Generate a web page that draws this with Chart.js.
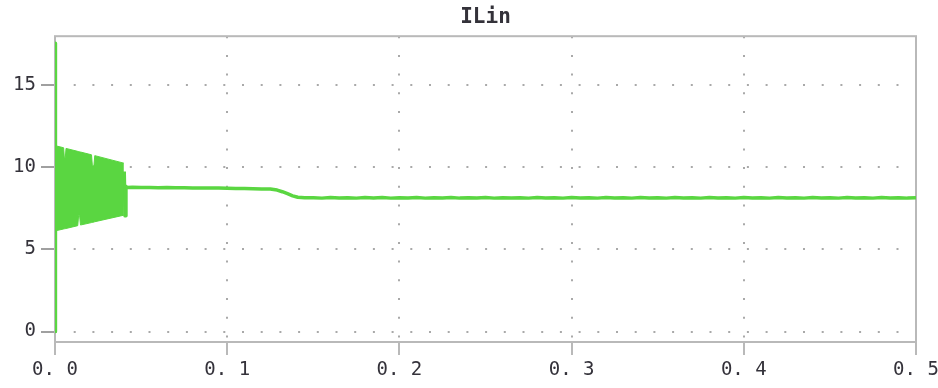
<!DOCTYPE html>
<html>
<head>
<meta charset="utf-8">
<script src="https://cdn.jsdelivr.net/npm/chart.js@4"></script>
<style>
  html, body { margin: 0; padding: 0; background: #ffffff; }
  #wrap { width: 938px; height: 388px; position: relative; }
</style>
</head>
<body>
<div id="wrap"><canvas id="c"></canvas></div>
<script>
// ---- chart text and ticks ----
const chartTitle = 'ILin';
const xTicks = [0, 0.1, 0.2, 0.3, 0.4, 0.5];
const xTickLabels = ['0. 0', '0. 1', '0. 2', '0. 3', '0. 4', '0. 5'];
const yTicks = [0, 5, 10, 15];
const yTickLabels = ['0', '5', '10', '15'];

// ---- start-up spike at t = 0 (s, A) ----
const spikeT = [0, 0.0001, 0.0004];
const spikeI = [0, 17.57, 6.14];

// ---- switching band during start-up: upper / lower envelope (s, A) ----
const bandT    = [0.0004, 0.0050, 0.0054, 0.0060, 0.0064, 0.0132, 0.0137, 0.0143, 0.0148, 0.0212, 0.0217, 0.0226, 0.0231, 0.0400];
const bandHigh = [11.32, 11.20, 10.62, 10.62, 11.16, 10.98, 10.97, 10.95, 10.94, 10.77, 10.10, 10.10, 10.72, 10.26];
const bandLow  = [6.14, 6.25, 6.26, 6.27, 6.28, 6.45, 7.05, 7.05, 6.49, 6.64, 6.65, 6.67, 6.69, 7.09];

// ---- settled input current (s, A) ----
const traceT = [
  0.0402, 0.0407, 0.0412, 0.0418, 0.045, 0.050, 0.055, 0.060, 0.065, 0.070,
  0.075, 0.080, 0.085, 0.090, 0.095, 0.100, 0.105, 0.110, 0.115, 0.120,
  0.125, 0.129, 0.132, 0.135, 0.138, 0.141, 0.145,
  0.150, 0.155, 0.160, 0.165, 0.170, 0.175, 0.180, 0.185, 0.190, 0.195,
  0.200, 0.205, 0.210, 0.215, 0.220, 0.225, 0.230, 0.235, 0.240, 0.245,
  0.250, 0.255, 0.260, 0.265, 0.270, 0.275, 0.280, 0.285, 0.290, 0.295,
  0.300, 0.305, 0.310, 0.315, 0.320, 0.325, 0.330, 0.335, 0.340, 0.345,
  0.350, 0.355, 0.360, 0.365, 0.370, 0.375, 0.380, 0.385, 0.390, 0.395,
  0.400, 0.405, 0.410, 0.415, 0.420, 0.425, 0.430, 0.435, 0.440, 0.445,
  0.450, 0.455, 0.460, 0.465, 0.470, 0.475, 0.480, 0.485, 0.490, 0.495,
  0.500
];
const traceI = [
  9.75, 7.05, 8.85, 8.78, 8.79, 8.77, 8.78, 8.76, 8.77, 8.76,
  8.76, 8.75, 8.75, 8.74, 8.74, 8.73, 8.72, 8.71, 8.70, 8.69,
  8.68, 8.62, 8.52, 8.40, 8.27, 8.18, 8.15,
  8.16, 8.13, 8.17, 8.14, 8.16, 8.13, 8.17, 8.14, 8.17, 8.13,
  8.16, 8.14, 8.17, 8.13, 8.16, 8.14, 8.17, 8.13, 8.15, 8.14,
  8.17, 8.13, 8.16, 8.14, 8.16, 8.13, 8.17, 8.14, 8.16, 8.13,
  8.17, 8.14, 8.16, 8.13, 8.17, 8.14, 8.16, 8.13, 8.17, 8.14,
  8.16, 8.13, 8.17, 8.14, 8.16, 8.13, 8.17, 8.14, 8.16, 8.13,
  8.17, 8.14, 8.16, 8.13, 8.17, 8.14, 8.16, 8.13, 8.17, 8.14,
  8.16, 8.13, 8.17, 8.14, 8.16, 8.13, 8.17, 8.14, 8.16, 8.13,
  8.15
];

// ---- styling ----
const traceColor = '#5ad641';
const frameColor = '#b9b9b9';
const gridColor = '#a9a9a9';
const textColor = '#34323a';
const monoFont = "'DejaVu Sans Mono', 'Liberation Mono', monospace";

const toPoints = (ts, vs) => ts.map((t, i) => ({ x: t, y: vs[i] }));

// spike, a break while the band is drawn, then the settled trace
const mainPoints = toPoints(spikeT, spikeI)
  .concat([{ x: 0.0010, y: null }])
  .concat(toPoints(traceT, traceI));

// plot frame around the chart area
const framePlugin = {
  id: 'plotFrame',
  beforeDatasetsDraw(chart) {
    const { ctx, chartArea: a } = chart;
    ctx.save();
    ctx.strokeStyle = frameColor;
    ctx.lineWidth = 2;
    ctx.strokeRect(a.left, a.top, a.right - a.left, a.bottom - a.top);
    ctx.restore();
  }
};

new Chart(document.getElementById('c'), {
  type: 'line',
  data: {
    datasets: [
      {
        label: 'band high',
        data: toPoints(bandT, bandHigh),
        borderColor: traceColor,
        borderWidth: 1,
        pointRadius: 0,
        fill: false,
        tension: 0
      },
      {
        label: 'band low',
        data: toPoints(bandT, bandLow),
        borderColor: traceColor,
        backgroundColor: traceColor,
        borderWidth: 1,
        pointRadius: 0,
        fill: '-1',
        tension: 0
      },
      {
        label: chartTitle,
        data: mainPoints,
        borderColor: traceColor,
        borderWidth: 3.5,
        borderJoinStyle: 'round',
        pointRadius: 0,
        fill: false,
        tension: 0,
        spanGaps: false
      }
    ]
  },
  options: {
    responsive: true,
    maintainAspectRatio: false,
    animation: false,
    events: [],
    layout: { padding: { left: 0, right: 0, top: 0, bottom: 0 } },
    plugins: {
      legend: { display: false },
      tooltip: { enabled: false },
      title: {
        display: true,
        fullSize: false,
        text: chartTitle,
        color: textColor,
        font: { family: monoFont, size: 21, weight: 'bold', lineHeight: 1.2 },
        padding: { top: 5, bottom: 6 }
      }
    },
    scales: {
      x: {
        type: 'linear',
        min: 0,
        max: 0.5,
        afterBuildTicks: (axis) => { axis.ticks = xTicks.map(v => ({ value: v })); },
        afterFit: (axis) => {
          axis.height = 46;
          axis.paddingLeft = 0;
          axis.paddingRight = 22;
        },
        ticks: {
          autoSkip: false,
          maxRotation: 0,
          padding: 4,
          color: textColor,
          font: { family: monoFont, size: 19 },
          callback: (v, i) => xTickLabels[i]
        },
        border: { display: false, dash: [2, 16.7] },
        grid: {
          color: gridColor,
          lineWidth: 2,
          tickColor: frameColor,
          tickWidth: 2,
          tickLength: 13,
          tickBorderDash: []
        }
      },
      y: {
        type: 'linear',
        min: -0.64,
        max: 18.0,
        afterBuildTicks: (axis) => { axis.ticks = yTicks.map(v => ({ value: v })); },
        afterFit: (axis) => { axis.width = 55; },
        ticks: {
          autoSkip: false,
          padding: 5,
          color: textColor,
          font: { family: monoFont, size: 19 },
          callback: (v, i) => yTickLabels[i]
        },
        border: { display: false, dash: [2, 16.7] },
        grid: {
          color: gridColor,
          lineWidth: 2,
          tickColor: '#a0a0a0',
          tickWidth: 2,
          tickLength: 14,
          tickBorderDash: []
        }
      }
    }
  },
  plugins: [framePlugin]
});
</script>
</body>
</html>
